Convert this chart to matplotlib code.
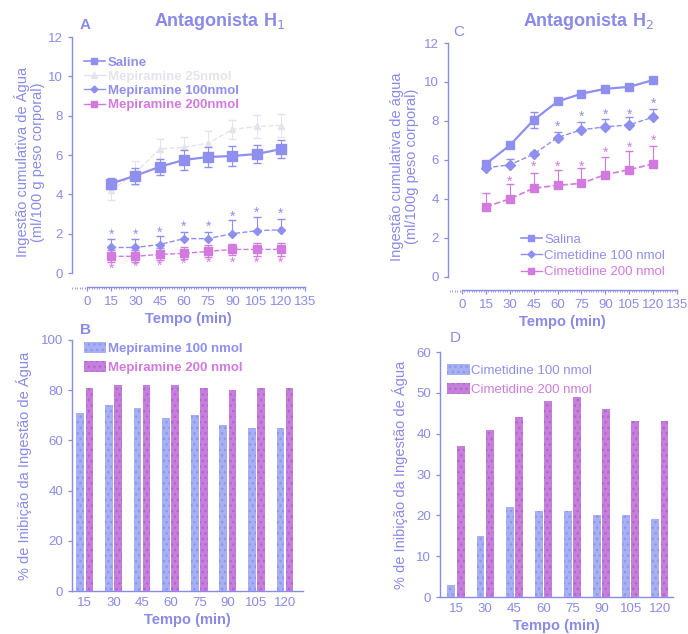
import matplotlib
matplotlib.use("Agg")
import matplotlib.pyplot as plt
import numpy as np
from matplotlib.patches import Patch
from matplotlib.lines import Line2D

# ----------------------------------------------------------------- data
tempo = [15, 30, 45, 60, 75, 90, 105, 120]
tempo_labels = ["15", "30", "45", "60", "75", "90", "105", "120"]

# panel A - antagonista H1 (ml/100 g)
saline_a = [4.55, 4.95, 5.4, 5.75, 5.9, 5.95, 6.05, 6.3]
saline_a_err = [0.3, 0.4, 0.4, 0.5, 0.5, 0.5, 0.45, 0.45]
mep25 = [4.2, 5.1, 6.3, 6.4, 6.6, 7.3, 7.45, 7.5]
mep25_err = [0.5, 0.6, 0.5, 0.5, 0.6, 0.5, 0.6, 0.6]
mep100 = [1.3, 1.3, 1.45, 1.75, 1.75, 2.0, 2.15, 2.2]
mep100_err = [0.45, 0.45, 0.45, 0.35, 0.35, 0.7, 0.7, 0.55]
mep100_star = [1.95, 1.95, 2.05, 2.35, 2.35, 2.85, 3.05, 3.0]
mep200 = [0.85, 0.85, 0.95, 1.0, 1.1, 1.2, 1.2, 1.2]
mep200_err = [0.3, 0.3, 0.3, 0.3, 0.3, 0.3, 0.35, 0.35]
mep200_star = [0.2, 0.3, 0.35, 0.45, 0.5, 0.5, 0.5, 0.5]

# panel C - antagonista H2
salina_c = [5.8, 6.75, 8.05, 9.0, 9.4, 9.65, 9.75, 10.1]
salina_c_err = [0.1, 0.1, 0.4, 0.1, 0.1, 0.1, 0.1, 0.1]
cim100 = [5.6, 5.75, 6.3, 7.15, 7.55, 7.7, 7.8, 8.2]
cim100_err = [0.1, 0.3, 0.1, 0.3, 0.4, 0.4, 0.4, 0.4]
cim100_star = [None, None, None, 7.7, 8.2, 8.3, 8.3, 8.9]
cim200 = [3.6, 4.0, 4.55, 4.7, 4.8, 5.25, 5.5, 5.8]
cim200_err = [0.7, 0.75, 0.8, 0.8, 0.8, 0.9, 0.95, 0.9]
cim200_star = [None, 4.9, 5.65, 5.65, 5.65, 6.35, 6.6, 7.0]

# panel B / D - % inibicao
inib_mep100 = [71, 74, 73, 69, 70, 66, 65, 65]
inib_mep200 = [81, 82, 82, 82, 81, 80, 81, 81]
inib_cim100 = [3, 15, 22, 21, 21, 20, 20, 19]
inib_cim200 = [37, 41, 44, 48, 49, 46, 43, 43]

# ----------------------------------------------------------------- style
BLUE = "#8f8ff0"
MAG = "#d27ade"
FAINT = "#e4e4ec"
TXT = "#8a8ae8"
BAR_B = "#a8b0f4"
BAR_M = "#c77fdc"

plt.rcParams["font.family"] = "Liberation Sans"

W, H = 688, 634
fig = plt.figure(figsize=(W / 100, H / 100), dpi=100)


def px_axes(l, t, r, b):
    return fig.add_axes([l / W, 1 - b / H, (r - l) / W, (b - t) / H])


def style_axes(ax):
    for s in ("top", "right"):
        ax.spines[s].set_visible(False)
    for s in ("left", "bottom"):
        ax.spines[s].set_color(TXT)
        ax.spines[s].set_linewidth(1.0)
    ax.tick_params(colors=TXT, labelcolor=TXT, labelsize=9.5, length=3,
                   width=0.9)


def star(ax, xs, ys, color):
    for x, y in zip(xs, ys):
        if y is not None:
            ax.text(x, y, "*", color=color, ha="center", va="center",
                    fontsize=10)


def line_panel(ax, xoff, yoff):
    style_axes(ax)
    ax.set_xlim(xoff, 135)
    ax.set_ylim(yoff, 12)
    ax.spines["left"].set_bounds(0, 12)
    ax.spines["bottom"].set_bounds(0, 135)
    ax.set_xticks(range(0, 136, 15))
    ax.set_xticklabels([str(v) for v in range(0, 136, 15)])
    ax.set_yticks(range(0, 13, 2))
    ax.xaxis.set_minor_locator(matplotlib.ticker.MultipleLocator(1.5))
    ax.tick_params(axis="x", which="minor", length=1.5, colors=TXT)
    ax.set_xlabel("Tempo (min)", color=TXT, fontsize=10.5,
                  fontweight="bold", labelpad=3)


# ----------------------------------------------------------------- A
axA = px_axes(72, 37, 305, 287)
line_panel(axA, -9.3, -0.71)
axA.errorbar(tempo, mep25, yerr=mep25_err, color=FAINT, marker="^", ms=4,
             lw=1.0, ls="--", capsize=3, elinewidth=0.7, zorder=2)
axA.errorbar(tempo, saline_a, yerr=saline_a_err, color=BLUE, marker="s",
             ms=7, lw=1.6, capsize=3, elinewidth=0.8, zorder=4)
axA.errorbar(tempo, mep100, yerr=[[0] * 8, mep100_err], color=BLUE,
             marker="D", ms=4.5, lw=1.0, ls="--", capsize=3, elinewidth=0.8,
             zorder=3)
axA.errorbar(tempo, mep200, yerr=mep200_err, color=MAG, marker="s", ms=6,
             lw=1.0, ls="--", capsize=3, elinewidth=0.8, zorder=3)
star(axA, tempo, mep100_star, BLUE)
star(axA, tempo, mep200_star, MAG)
axA.set_ylabel("Ingestão cumulativa de Água\n(ml/100 g peso corporal)",
               color=TXT, fontsize=10.5, linespacing=1.1)
axA.yaxis.set_label_coords(-0.115, 0.5)
legA = axA.legend(
    handles=[Line2D([], [], color=BLUE, marker="s", ms=5, lw=1.2),
             Line2D([], [], color=FAINT, marker="^", ms=4, lw=1.0),
             Line2D([], [], color=BLUE, marker="D", ms=3.5, lw=1.0),
             Line2D([], [], color=MAG, marker="s", ms=4.5, lw=1.0)],
    labels=["Saline", "Mepiramine 25nmol", "Mepiramine 100nmol",
            "Mepiramine 200nmol"],
    loc="upper left", bbox_to_anchor=(0.0, 0.97), frameon=False,
    handlelength=1.6, handletextpad=0.2, labelspacing=0.15,
    prop={"weight": "bold", "size": 9.5})
for t, c in zip(legA.get_texts(), [BLUE, FAINT, BLUE, MAG]):
    t.set_color(c)
fig.text(80 / W, 1 - 25 / H, "A", color=TXT, fontsize=11,
         fontweight="bold", va="center")
fig.text(220 / W, 1 - 22 / H, "Antagonista H$_1$", color=TXT, fontsize=13,
         fontweight="bold", ha="center", va="center")

# ----------------------------------------------------------------- C
axC = px_axes(448, 43, 677, 290)
line_panel(axC, -8.8, -0.67)
axC.errorbar(tempo, salina_c, yerr=salina_c_err, color=BLUE, marker="s",
             ms=6, lw=1.6, capsize=3, elinewidth=0.8, zorder=4)
axC.errorbar(tempo, cim100, yerr=[[0] * 8, cim100_err], color=BLUE,
             marker="D", ms=5, lw=1.0, ls="--", capsize=3, elinewidth=0.8,
             zorder=3)
axC.errorbar(tempo, cim200, yerr=[[0] * 8, cim200_err], color=MAG,
             marker="s", ms=6, lw=1.2, ls="--", capsize=3, elinewidth=0.8,
             zorder=3)
star(axC, tempo, cim100_star, BLUE)
star(axC, tempo, cim200_star, MAG)
axC.set_ylabel("Ingestão cumulativa de água\n(ml/100g peso corporal)",
               color=TXT, fontsize=10.5, linespacing=1.1)
axC.yaxis.set_label_coords(-0.125, 0.5)
legC = axC.legend(
    handles=[Line2D([], [], color=BLUE, marker="s", ms=4.5, lw=1.2),
             Line2D([], [], color=BLUE, marker="D", ms=3.5, lw=1.0),
             Line2D([], [], color=MAG, marker="s", ms=4.5, lw=1.0)],
    labels=["Salina", "Cimetidine 100 nmol", "Cimetidine 200 nmol"],
    loc="lower right", bbox_to_anchor=(1.0, 0.0), frameon=False,
    handlelength=1.6, handletextpad=0.2, labelspacing=0.3,
    prop={"size": 9.5})
for t, c in zip(legC.get_texts(), [BLUE, BLUE, MAG]):
    t.set_color(c)
fig.text(453 / W, 1 - 32 / H, "C", color=TXT, fontsize=11, va="center")
fig.text(588 / W, 1 - 22 / H, "Antagonista H$_2$", color=TXT, fontsize=13,
         fontweight="bold", ha="center", va="center")


# ----------------------------------------------------------------- bars
def bar_panel(ax, v1, v2, ymax, ystep, xl, xr, labels, bold, anchor):
    style_axes(ax)
    x = np.arange(len(tempo))
    bw = 0.27
    ax.bar(x - 0.16, v1, width=bw, color=BAR_B, edgecolor="#8c96ea",
           hatch="...", linewidth=0, zorder=2)
    ax.bar(x + 0.16, v2, width=bw, color=BAR_M, edgecolor="#b066cc",
           hatch="...", linewidth=0, zorder=2)
    ax.set_xlim(xl, xr)
    ax.set_ylim(0, ymax)
    ax.set_yticks(np.arange(0, ymax + 1, ystep))
    ax.set_xticks(x)
    ax.set_xticklabels(tempo_labels)
    ax.tick_params(axis="x", length=0, pad=4)
    ax.set_xlabel("Tempo (min)", color=TXT, fontsize=10.5,
                  fontweight="bold", labelpad=3)
    ax.set_ylabel("% de Inibição da Ingestão de Água", color=TXT,
                  fontsize=10.5, labelpad=6)
    leg = ax.legend(
        handles=[Patch(facecolor=BAR_B, edgecolor="#8c96ea", hatch="...",
                       linewidth=0),
                 Patch(facecolor=BAR_M, edgecolor="#b066cc", hatch="...",
                       linewidth=0)],
        labels=labels, loc="upper left", bbox_to_anchor=anchor,
        frameon=False, handlelength=1.7, handleheight=0.9,
        handletextpad=0.1, labelspacing=0.45,
        prop={"size": 9.5, "weight": "bold" if bold else "normal"})
    for t, c in zip(leg.get_texts(), [BLUE, MAG]):
        t.set_color(c)


axB = px_axes(72, 340, 303, 591)
bar_panel(axB, inib_mep100, inib_mep200, 100, 20, -0.45, 7.63,
          ["Mepiramine 100 nmol", "Mepiramine 200 nmol"], True,
          (0.0, 1.04))
fig.text(80 / W, 1 - 330 / H, "B", color=TXT, fontsize=11,
         fontweight="bold", va="center")

axD = px_axes(440, 352, 673, 597)
bar_panel(axD, inib_cim100, inib_cim200, 60, 10, -0.55, 7.45,
          ["Cimetidine 100 nmol", "Cimetidine 200 nmol"], False,
          (-0.02, 1.0))
fig.text(450 / W, 1 - 338 / H, "D", color=TXT, fontsize=11, va="center")

fig.savefig("out.png", dpi=100)
